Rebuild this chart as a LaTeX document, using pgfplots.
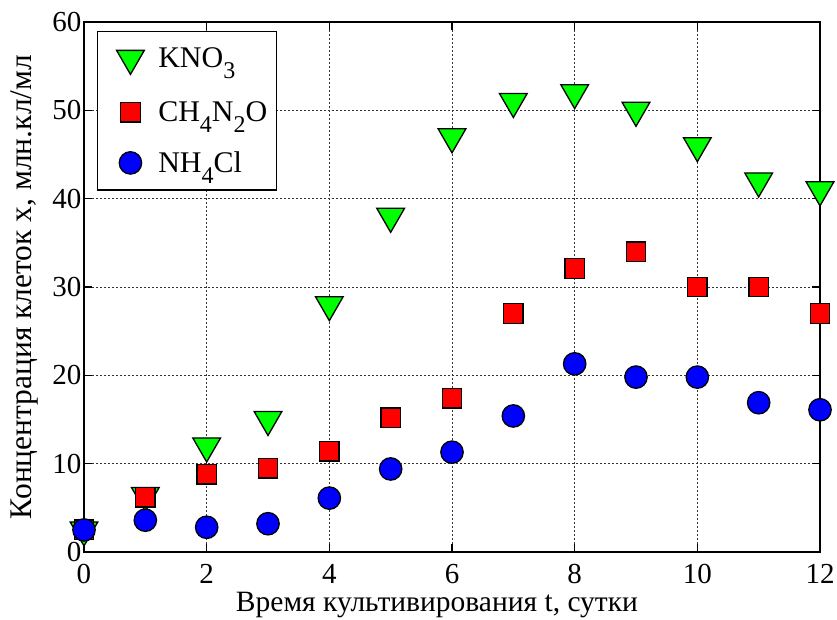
\documentclass[border=0pt]{standalone}
\usepackage{fontspec}
\setmainfont{Liberation Serif}
\usepackage{pgfplots}
\pgfplotsset{compat=1.18}

% chemical-formula subscripts in the text font
\newcommand{\sub}[1]{\raisebox{-11pt}{\fontsize{24}{24}\selectfont #1}}

\pgfplotstableread{
t   kno3  urea  nh4cl
0   2.5   2.5   2.5
1   6.4   6.2   3.6
2   12    8.8   2.8
3   15    9.5   3.2
4   28    11.4  6.1
5   38    15.2  9.4
6   47    17.4  11.3
7   51    27    15.4
8   52    32.1  21.3
9   50    34    19.8
10  46    30    19.8
11  42    30    16.9
12  41    27    16.1
}\growth

\begin{document}
\begin{tikzpicture}
\path[use as bounding box] (-84pt,-68pt) rectangle (753pt,552pt);
\begin{axis}[
  at={(0pt,0pt)}, anchor=south west,
  width=736pt, height=530pt, scale only axis,
  xmin=0, xmax=12, ymin=0, ymax=60,
  xtick={0,2,...,12}, ytick={0,10,...,60},
  clip=false,
  grid=major,
  major grid style={dash pattern=on 1.6pt off 2.4pt, line width=0.8pt, black!80},
  axis line style={line width=1.4pt},
  tick style={line width=1.2pt, black},
  major tick length=8pt,
  /pgf/number format/assume math mode=true,
  tick label style={font=\rmfamily\fontsize{29}{32}\selectfont},
  xticklabel style={anchor=base, yshift=-31pt},
  yticklabel style={xshift=1pt},
  xlabel={Время культивирования t, сутки},
  ylabel={Концентрация клеток x, млн.кл/мл},
  xlabel style={font=\fontsize{29.5}{34}\selectfont,
    at={(axis description cs:0.4796,-0.1132)}, anchor=base},
  ylabel style={font=\fontsize{31.5}{36}\selectfont,
    at={(axis description cs:-0.072,0.5)}, anchor=base},
  legend style={at={(rel axis cs:0.0177,0.983)}, anchor=north west,
    draw=black, line width=1.4pt, inner xsep=7pt, inner ysep=14pt,
    row sep=25pt, column sep=12pt, font=\fontsize{30}{34}\selectfont},
  legend image code/.code={%
    \path (-16.5pt,0pt);
    \draw[mark repeat=2,mark phase=2,#1]
      plot coordinates {(0cm,0cm) (0.3cm,0cm) (0.6cm,0cm)};},
  legend cell align=left,
]
\addplot[only marks, mark=triangle*, mark size=16pt,
  mark options={rotate=180, fill=green, draw=black, line width=1.3pt}]
  table[x=t, y=kno3] {\growth};
\addlegendentry{KNO\sub{3}}
\addplot[only marks, mark=square*, mark size=9.8pt,
  mark options={fill=red, draw=black, line width=1.3pt}]
  table[x=t, y=urea] {\growth};
\addlegendentry{CH\sub{4}N\sub{2}O}
\addplot[only marks, mark=*, mark size=11.2pt,
  mark options={fill=blue, draw=black, line width=1.3pt}]
  table[x=t, y=nh4cl] {\growth};
\addlegendentry{NH\sub{4}Cl}
\end{axis}
\end{tikzpicture}
\end{document}
